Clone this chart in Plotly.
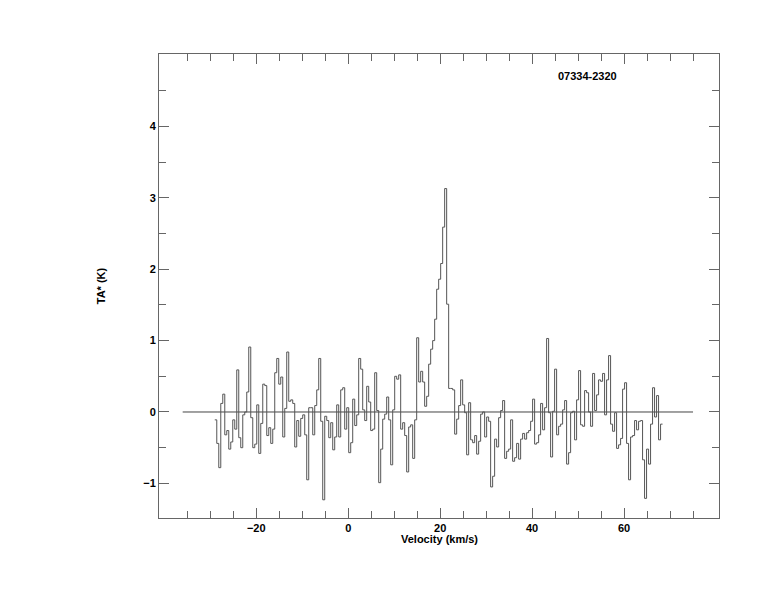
import numpy as np
import plotly.graph_objects as go

# Spectrum: channel left edge of first channel, channel width (km/s), antenna temperatures (K)
V_START = -29.02
CHANNEL_WIDTH = 0.4348
TA = [
    -0.11, -0.44, -0.78, 0.12, 0.25, -0.32, -0.26, -0.52, -0.42, -0.11,
    -0.24, 0.59, -0.36, -0.50, -0.04, 0.00, 0.28, 0.91, -0.08, -0.50,
    -0.45, 0.10, -0.58, -0.16, 0.39, 0.37, -0.33, -0.22, -0.44, -0.24,
    0.55, 0.75, 0.39, 0.49, -0.35, 0.05, 0.84, 0.15, 0.17, 0.12,
    -0.49, -0.12, -0.34, -0.09, -0.04, -0.32, -0.95, 0.06, 0.06, -0.32,
    0.09, 0.31, 0.75, -0.13, -1.23, -0.06, -0.12, -0.36, -0.15, -0.53,
    -0.35, 0.10, -0.35, 0.31, 0.34, -0.24, 0.06, -0.57, -0.43, 0.18,
    -0.19, -0.04, 0.75, 0.60, 0.03, -0.12, 0.36, 0.14, -0.26, -0.24,
    0.55, 0.02, -0.99, -0.52, -0.10, -0.03, 0.21, -0.11, -0.74, 0.03,
    0.50, 0.46, 0.52, -0.24, -0.15, -0.33, -0.84, -0.21, -0.18, -0.65,
    -0.11, 1.04, 0.42, 0.57, 0.42, 0.08, 0.22, 0.67, 0.88, 1.00,
    1.30, 1.72, 1.86, 2.08, 2.59, 3.13, 1.51, 0.33, 0.33, 0.31,
    -0.31, -0.10, 0.09, 0.45, 0.10, -0.01, -0.60, 0.13, -0.39, -0.43,
    -0.33, -0.59, -0.41, -0.03, 0.00, -0.35, -0.07, -0.13, -1.05, -0.90,
    -0.38, -0.49, -0.08, 0.02, 0.16, -0.65, -0.55, -0.52, -0.11, -0.69,
    -0.64, -0.44, -0.66, -0.38, -0.30, -0.38, -0.29, -0.26, -0.13, 0.18,
    -0.45, -0.43, -0.32, 0.12, -0.25, 0.06, 1.03, -0.01, -0.63, 0.01,
    0.60, -0.32, -0.20, -0.17, 0.03, 0.16, -0.73, -0.57, -0.01, 0.01,
    -0.39, 0.17, 0.58, -0.18, -0.20, 0.30, 0.27, 0.00, -0.20, 0.54,
    0.02, 0.24, 0.45, 0.43, 0.54, -0.04, 0.45, 0.79, -0.17, -0.27,
    -0.01, -0.51, -0.46, -0.37, 0.32, 0.41, -0.44, -0.95, -0.35, -0.33,
    -0.12, -0.25, -0.13, -0.12, -0.67, -1.21, -0.52, -0.73, -0.17, 0.34,
    -0.07, 0.23, -0.39, -0.17,
]
BASELINE_X = [-36, 75]
BASELINE_Y = [0, 0]
SOURCE_NAME = "07334-2320"
X_TITLE = "Velocity (km/s)"
Y_TITLE = "TA* (K)"
X_TICKS = [-20, 0, 20, 40, 60]
X_MINOR_TICKS = [-35, -30, -25, -15, -10, -5, 5, 10, 15, 25, 30, 35,
                 45, 50, 55, 65, 70, 75]
Y_TICKS = [-1, 0, 1, 2, 3, 4]
Y_MINOR_TICKS = [-0.5, 0.5, 1.5, 2.5, 3.5, 4.5]

edges = V_START + CHANNEL_WIDTH * np.arange(len(TA) + 1)
steps = list(TA) + [TA[-1]]

fig = go.Figure()
fig.add_trace(go.Scatter(x=BASELINE_X, y=BASELINE_Y, mode="lines",
                         line=dict(color="#444444", width=1), hoverinfo="skip"))
fig.add_trace(go.Scatter(x=edges, y=steps, mode="lines", line_shape="hv",
                         line=dict(color="#555555", width=1)))

tickfont = dict(family="Liberation Sans, Arial, sans-serif", size=11, color="black", weight="bold")
axis_common = dict(showgrid=False, zeroline=False, showline=True, linecolor="#666666",
                   linewidth=1, mirror="ticks", ticks="inside", tickcolor="#666666",
                   ticklen=10, tickwidth=1, tickfont=tickfont)

fig.update_xaxes(range=[-41.15, 80.65], tickmode="array", tickvals=X_TICKS,
                 minor=dict(ticks="inside", ticklen=7, tickmode="array",
                            tickvals=X_MINOR_TICKS, tickcolor="#666666"),
                 **axis_common)
fig.update_yaxes(range=[-1.485, 5.015], tickmode="array", tickvals=Y_TICKS,
                 minor=dict(ticks="inside", ticklen=7, tickmode="array",
                            tickvals=Y_MINOR_TICKS, tickcolor="#666666"),
                 title=dict(text=Y_TITLE, font=tickfont, standoff=35),
                 **axis_common)

fig.add_annotation(text=X_TITLE, xref="paper", yref="paper", x=0.5, y=0,
                   yshift=-21, showarrow=False, font=tickfont,
                   xanchor="center", yanchor="middle")
fig.add_annotation(text=SOURCE_NAME, xref="paper", yref="paper", x=0.766, y=0.953,
                   showarrow=False, font=tickfont, xanchor="center", yanchor="middle")

fig.update_layout(width=774, height=612, margin=dict(l=151, r=63, t=46, b=102),
                  paper_bgcolor="white", plot_bgcolor="white", showlegend=False)

fig.write_html("out.html")
